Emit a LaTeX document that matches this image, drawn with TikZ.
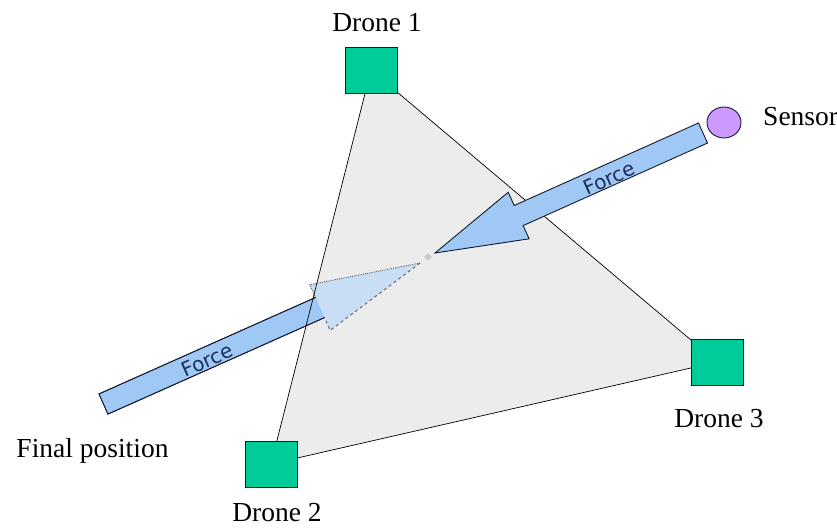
\documentclass[tikz,border=0pt]{standalone}
\usepackage{fontspec}
\setmainfont{Liberation Serif}
\newfontfamily\forcefont{DejaVu Sans}
\usetikzlibrary{calc,shapes.geometric}
\definecolor{dronegreen}{RGB}{0,204,153}
\definecolor{arrowblue}{RGB}{160,200,245}
\definecolor{ghostblue}{RGB}{200,222,245}
\definecolor{sensorpurple}{RGB}{204,153,255}
\definecolor{trifill}{RGB}{236,236,236}
\definecolor{forcetext}{RGB}{30,45,90}
\definecolor{outline}{RGB}{20,25,45}
\tikzset{
  dronebox/.style={draw=outline, line width=0.9pt, fill=dronegreen, minimum width=52pt, minimum height=46pt, inner sep=0pt},
  lbl/.style={font=\fontsize{27.5}{30}\selectfont, inner sep=0pt},
  forcelbl/.style={font=\forcefont\fontsize{20}{22}\selectfont, text=forcetext, inner sep=0pt, rotate=24},
  blockarrow/.style={draw=outline, line width=0.9pt, fill=arrowblue, line join=miter},
  edge/.style={draw=black, line width=0.7pt}
}
\begin{document}
\begin{tikzpicture}[x=1pt,y=-1pt]
\useasboundingbox (0,0) rectangle (837,527);
% drone centres
\coordinate (c1) at (371,70);
\coordinate (c2) at (271,464);
\coordinate (c3) at (717,362);
% triangle fill
\fill[trifill] (c1) -- (c2) -- (c3) -- cycle;
% second (final position) arrow
\coordinate (t2) at (103.5,404);
\coordinate (p2) at (420,263);
\coordinate (b2) at ($(t2)!237pt!(p2)$);
\fill[ghostblue] ($(b2)!25pt!90:(p2)$) -- (p2) -- ($(b2)!25pt!-90:(p2)$) -- ($(b2)!11pt!-90:(p2)$) -- ($(b2)!11pt!90:(p2)$) -- cycle;
\draw[outline!70, line width=0.9pt, densely dotted] ($(b2)!11pt!90:(p2)$) -- ($(b2)!25pt!90:(p2)$) -- (p2);
\draw[outline!70, line width=0.9pt, dashed] (p2) -- ($(b2)!25pt!-90:(p2)$) -- ($(b2)!11pt!-90:(p2)$);
\draw[blockarrow] ($(b2)!11pt!90:(p2)$) -- ($(t2)!11pt!90:(p2)$) -- ($(t2)!11pt!-90:(p2)$) -- ($(b2)!11pt!-90:(p2)$);
\fill[arrowblue] ($(b2)!10.5pt!90:(p2)$) -- ($(t2)!10.5pt!90:(p2)$) -- ($(t2)!10.5pt!-90:(p2)$) -- ($(b2)!10.5pt!-90:(p2)$) -- cycle;
\draw[blockarrow, fill=none] ($(b2)!11pt!90:(p2)$) -- ($(t2)!11pt!90:(p2)$) -- ($(t2)!11pt!-90:(p2)$) -- ($(b2)!11pt!-90:(p2)$);
% triangle edges
\draw[edge] (c1) -- (c2) -- (c3) -- cycle;
% drones
\node[dronebox] (d1) at (c1) {};
\node[dronebox] (d2) at (c2) {};
\node[dronebox] (d3) at (c3) {};
% labels
\node[lbl, anchor=base] (l1) at (377,32) {Drone 1};
\node[lbl, anchor=base] (l2) at (277,521) {Drone 2};
\node[lbl, anchor=base] (l3) at (719,427) {Drone 3};
\node[lbl, anchor=base] (lf) at (92.5,457) {Final position};
\node[lbl, anchor=base west] (ls) at (763,125) {Sensor};
% sensor
\node[draw=outline, line width=0.9pt, fill=sensorpurple, ellipse, minimum width=34pt, minimum height=31pt, inner sep=0pt] (s) at (724,122.5) {};
% first force arrow
\coordinate (t1) at (703,133);
\coordinate (p1) at (435,253);
\coordinate (b1) at ($(t1)!202pt!(p1)$);
\draw[blockarrow] ($(t1)!11pt!90:(p1)$) -- ($(b1)!11pt!90:(p1)$) -- ($(b1)!25.5pt!90:(p1)$) -- (p1) -- ($(b1)!25.5pt!-90:(p1)$) -- ($(b1)!11pt!-90:(p1)$) -- ($(t1)!11pt!-90:(p1)$) -- cycle;
% centre point
\node[diamond, fill=black!22, minimum size=8pt, inner sep=0pt] (cp) at (428,257) {};
% force labels
\node[forcelbl] (f1) at (609,178) {Force};
\node[forcelbl] (f2) at (207,360) {Force};
\end{tikzpicture}
\end{document}
